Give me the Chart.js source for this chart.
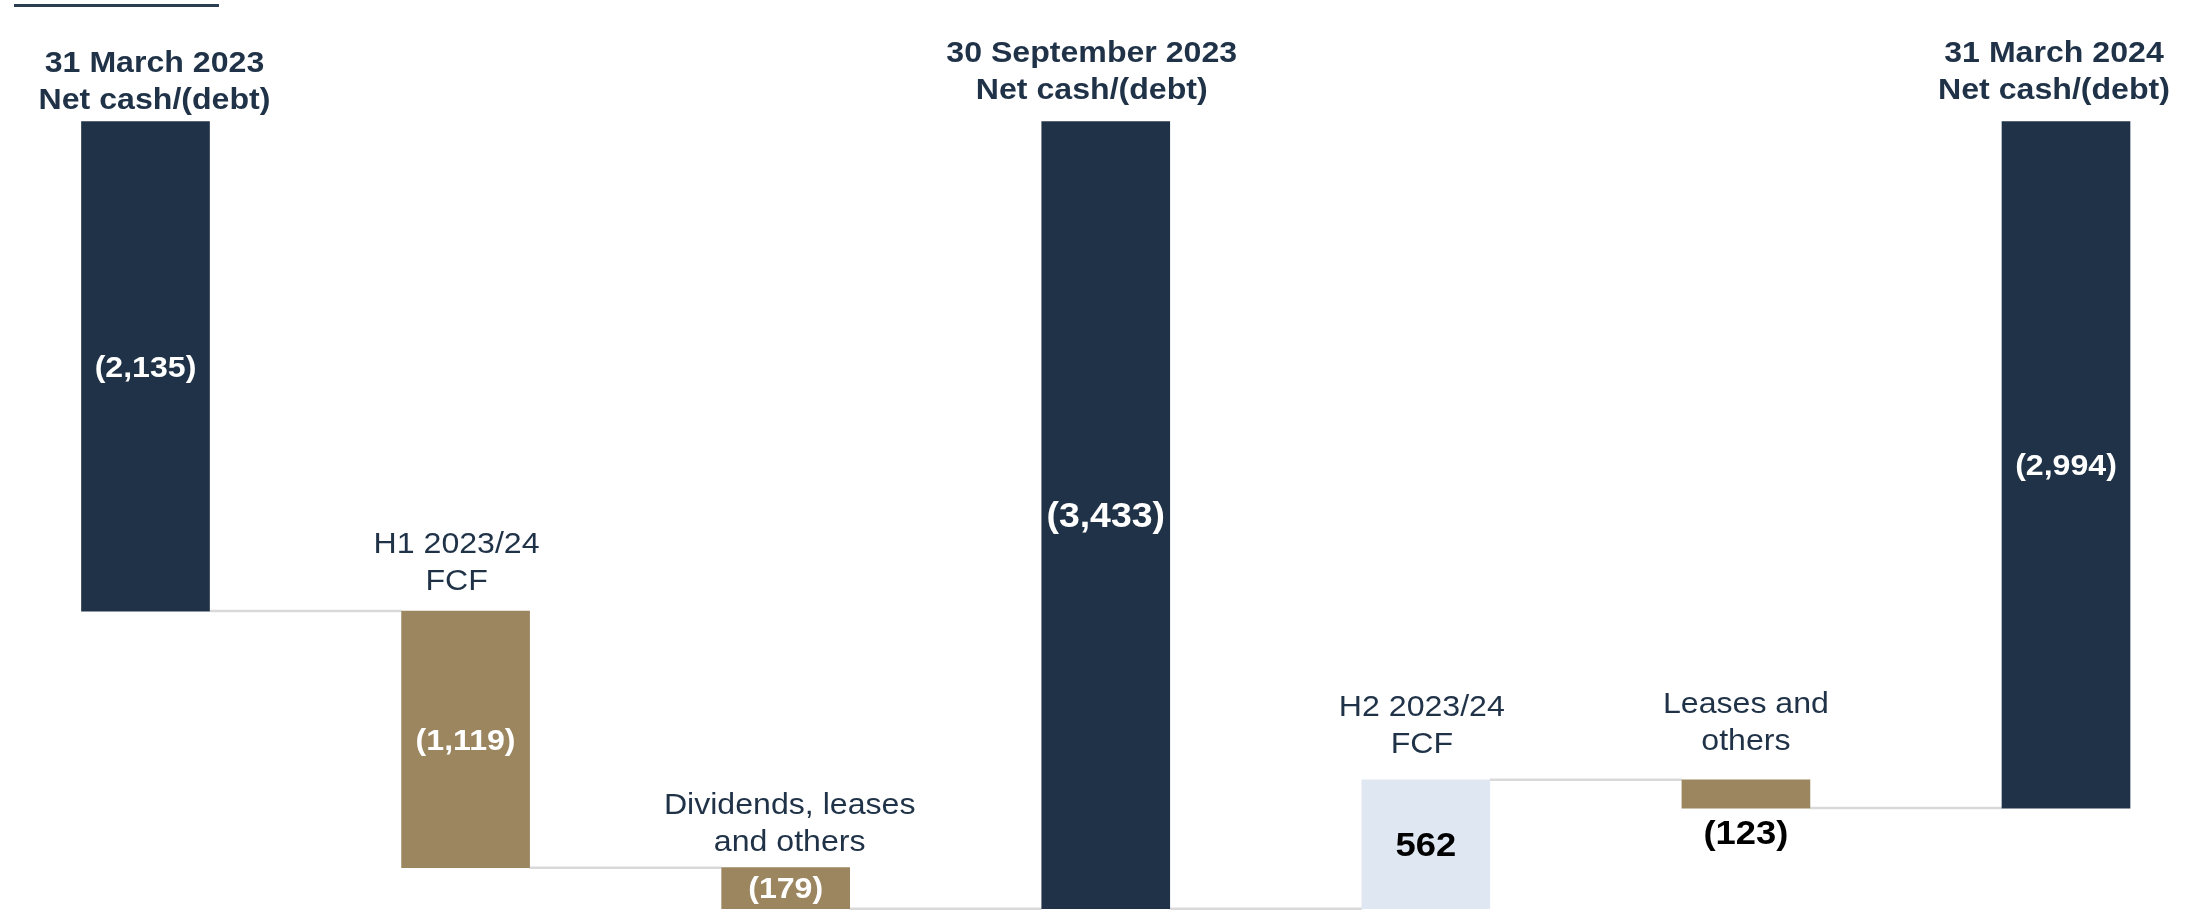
<!DOCTYPE html>
<html>
<head>
<meta charset="utf-8">
<title>Net cash/(debt) bridge</title>
<script src="https://cdn.jsdelivr.net/npm/chart.js@4/dist/chart.umd.min.js"></script>
<style>
  html, body { margin: 0; padding: 0; background: #fff; }
  #wrap { position: relative; width: 2190px; height: 914px; }
  #rule { position: absolute; left: 14px; top: 4px; width: 205px; height: 3px; background: #2b3d52; }
</style>
</head>
<body>
<div id="wrap">
  <div id="rule"></div>
  <canvas id="bridge" width="2190" height="914"></canvas>
</div>
<script>
// categories (multi-line), movement values and whether the bar is a balance
const categories = [
  ["31 March 2023", "Net cash/(debt)"],
  ["H1 2023/24", "FCF"],
  ["Dividends, leases", "and others"],
  ["30 September 2023", "Net cash/(debt)"],
  ["H2 2023/24", "FCF"],
  ["Leases and", "others"],
  ["31 March 2024", "Net cash/(debt)"]
];
const values = [-2135, -1119, -179, -3433, 562, -123, -2994];
const isTotal = [true, false, false, true, false, false, true];
const valueLabels = ["(2,135)", "(1,119)", "(179)", "(3,433)", "562", "(123)", "(2,994)"];

const NAVY = "#1f3247";
const GOLD = "#9b865f";
const PALE = "#dfe8f2";

// build floating bars from the running total
let running = 0;
const floating = [];
const colours = [];
values.forEach(function (v, i) {
  if (isTotal[i]) {
    floating.push([0, v]);
    running = v;
    colours.push(NAVY);
  } else {
    floating.push([running, running + v]);
    running = running + v;
    colours.push(v < 0 ? GOLD : PALE);
  }
});

const STRETCH = 1.07;
function stretchedText(ctx, text, x, y, font, colour) {
  ctx.save();
  ctx.font = font;
  ctx.fillStyle = colour;
  ctx.textAlign = "center";
  ctx.textBaseline = "middle";
  ctx.translate(x, y);
  ctx.scale(STRETCH, 1);
  ctx.fillText(text, 0, 0);
  ctx.restore();
}

const connectors = {
  id: "connectors",
  beforeDatasetsDraw(chart) {
    const ctx = chart.ctx;
    const meta = chart.getDatasetMeta(0);
    const y = chart.scales.y;
    ctx.save();
    ctx.strokeStyle = "#d9d9d9";
    ctx.lineWidth = 2.5;
    for (let i = 0; i < floating.length - 1; i++) {
      const a = meta.data[i], b = meta.data[i + 1];
      const level = y.getPixelForValue(floating[i][1]);
      ctx.beginPath();
      ctx.moveTo(a.x + a.width / 2, level);
      ctx.lineTo(b.x - b.width / 2, level);
      ctx.stroke();
    }
    ctx.restore();
  }
};

const labels = {
  id: "labels",
  afterDatasetsDraw(chart, args, opts) {
    const ctx = chart.ctx;
    const meta = chart.getDatasetMeta(0);
    const y = chart.scales.y;
    const family = "'Liberation Sans', Arial, sans-serif";
    meta.data.forEach(function (bar, i) {
      const top = y.getPixelForValue(Math.max(floating[i][0], floating[i][1]));
      const bottom = y.getPixelForValue(Math.min(floating[i][0], floating[i][1]));
      const lines = categories[i];
      const cx = bar.x + opts.shift[i];
      const lh = isTotal[i] ? 37 : 37;
      const font = isTotal[i] ? "bold 30px " + family : "30px " + family;
      // category label above the bar
      lines.forEach(function (t, k) {
        stretchedText(ctx, t, cx, top - opts.gap[i] - (lines.length - 1 - k) * lh, font, NAVY);
      });
      // value label
      const mid = (top + bottom) / 2;
      if (colours[i] === PALE) {
        stretchedText(ctx, valueLabels[i], bar.x, mid + 2, "bold 34px " + family, "#000");
      } else if (bottom - top < 40 && i !== 2) {
        stretchedText(ctx, valueLabels[i], bar.x, bottom + 27, "bold 34px " + family, "#000");
      } else {
        const size = i === 3 ? 35 : 30;
        stretchedText(ctx, valueLabels[i], bar.x, mid + 2, "bold " + size + "px " + family, "#fff");
      }
    });
  }
};

const ctx = document.getElementById("bridge").getContext("2d");
const chart = new Chart(ctx, {
  type: "bar",
  data: {
    labels: categories,
    datasets: [{
      data: floating,
      backgroundColor: colours,
      borderWidth: 0,
      barThickness: 128,
      clip: false
    }]
  },
  options: {
    responsive: false,
    animation: false,
    layout: { padding: { left: 145.5, right: 124, top: 121.5, bottom: 0 } },
    plugins: {
      legend: { display: false },
      tooltip: { enabled: false },
      labels: {
        gap: [21, 29, 25, 31, 35, 38, 31],
        shift: [9, -9, 4, -14, -4, 0, -12]
      }
    },
    scales: {
      x: { display: false, offset: false, grid: { display: false } },
      y: { display: false, min: -3456, max: 0, grid: { display: false } }
    }
  },
  plugins: [connectors, labels]
});
</script>
</body>
</html>
